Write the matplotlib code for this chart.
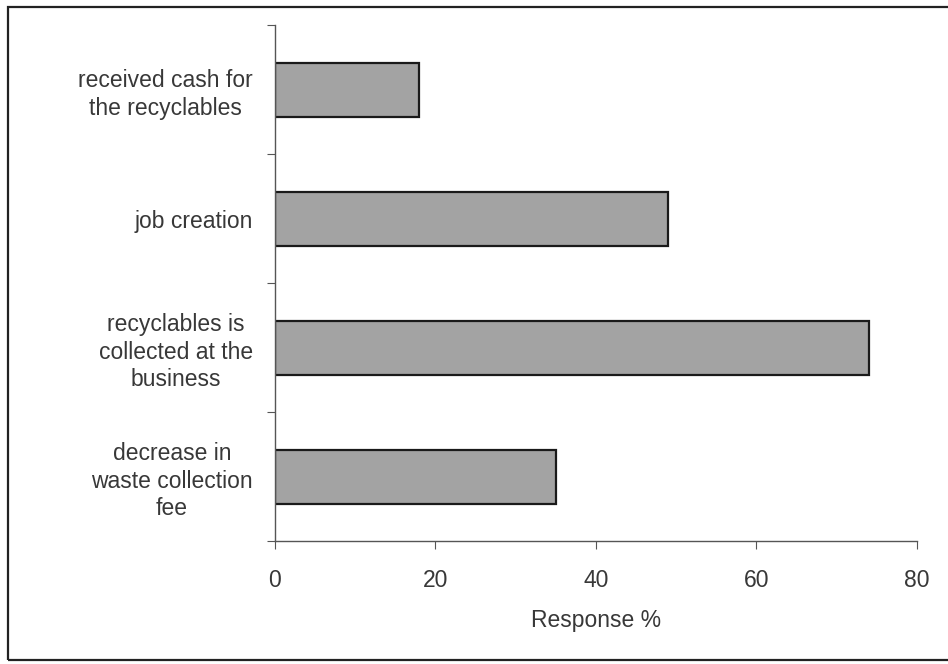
import matplotlib.pyplot as plt
from matplotlib.patches import Rectangle

# --- данные ---
categories = [
    "decrease in\nwaste collection\nfee",
    "recyclables is\ncollected at the\nbusiness",
    "job creation",
    "received cash for\nthe recyclables",
]
responses = [35, 74, 49, 18]
x_ticks = [0, 20, 40, 60, 80]

plt.rcParams["font.family"] = ["Liberation Sans", "DejaVu Sans"]
FS = 16.5
TXT = "#383838"

fig = plt.figure(figsize=(9.48, 6.64), dpi=100)
ax = fig.add_axes([0.290, 0.185, 0.677, 0.777])

ypos = list(range(len(categories)))
ax.barh(ypos, responses, height=0.42, color="#a3a3a3", edgecolor="#1a1a1a", linewidth=1.6)

ax.set_xlim(0, 80)
ax.set_ylim(-0.5, len(categories) - 0.5)
ax.set_xticks(x_ticks)
ax.set_xticklabels([str(v) for v in x_ticks], fontsize=FS, color=TXT)

# Excel-style: ticks between categories, labels at category centres
ax.set_yticks([i - 0.5 for i in range(len(categories) + 1)])
ax.set_yticklabels([])
ax.set_yticks(ypos, minor=True)
ax.set_yticklabels(categories, minor=True, fontsize=FS, color=TXT,
                   ha="right", multialignment="center", linespacing=1.25)
ax.tick_params(axis="y", which="minor", length=0, pad=16)
ax.tick_params(axis="y", which="major", length=6, direction="out", color="#555555")
ax.tick_params(axis="x", length=6, direction="out", color="#555555", pad=14)

for side in ("top", "right"):
    ax.spines[side].set_visible(False)
for side in ("left", "bottom"):
    ax.spines[side].set_color("#555555")
    ax.spines[side].set_linewidth(1.0)

ax.set_xlabel("Response %", fontsize=FS, color=TXT, labelpad=12)

# рамка вокруг всей диаграммы
fig.patches.append(Rectangle((0.008, 0.006), 1.2, 0.983, transform=fig.transFigure,
                             fill=False, edgecolor="#222222", linewidth=1.6))

fig.savefig("out.png", dpi=100)
